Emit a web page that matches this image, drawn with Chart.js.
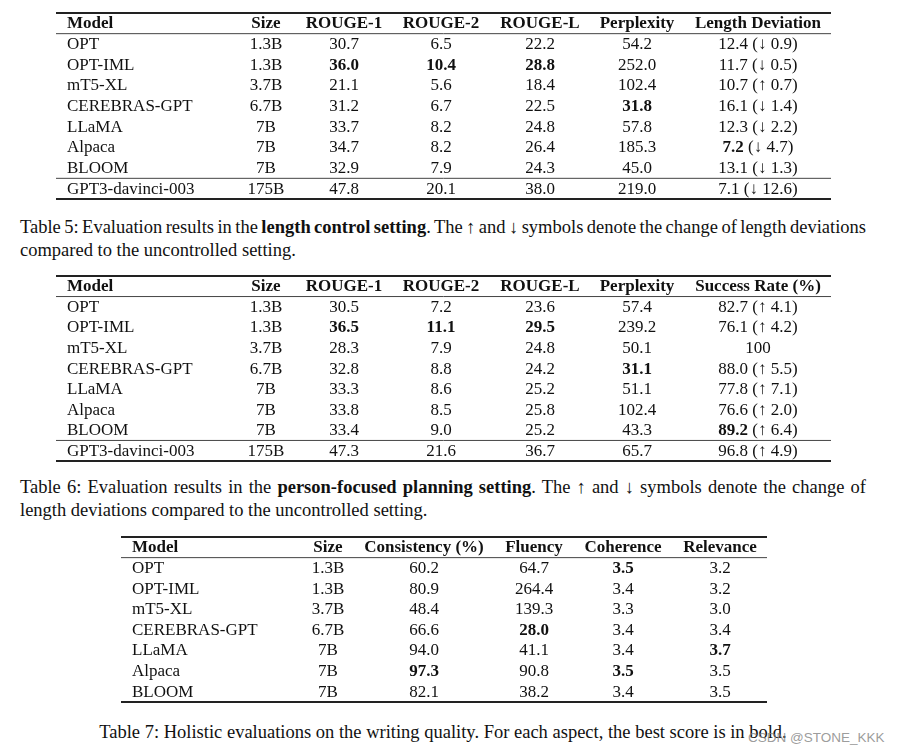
<!DOCTYPE html>
<html>
<head>
<meta charset="utf-8">
<script src="https://cdn.jsdelivr.net/npm/chart.js@4.4.0/dist/chart.umd.min.js"></script>
<style>
  body { margin: 0; background: #fff; width: 897px; height: 754px; position: relative; overflow: hidden;
         font-family: "Liberation Serif", "Times New Roman", serif; color: #111; }
  canvas { position: absolute; }
  .cap { position: absolute; left: 20px; width: 846px; font-size: 18.5px; line-height: 22.5px; }
  .cap .l1 { text-align: justify; text-align-last: justify; white-space: nowrap; word-spacing: -1.6px; }
  .cap.center { text-align: center; }
  .wm { position: absolute; left: 748px; top: 730px; font-family: "Liberation Sans", Arial, sans-serif;
        font-size: 13.5px; color: rgba(130,130,130,0.8); }
</style>
</head>
<body>
<canvas id="t5" width="775" height="190" style="left:56px; top:11px;"></canvas>
<div class="cap" style="top:216px;">
  <div class="l1">Table 5: Evaluation results in the <b>length control setting</b>. The ↑ and ↓ symbols denote the change of length deviations</div>
  <div>compared to the uncontrolled setting.</div>
</div>
<canvas id="t6" width="775" height="189" style="left:56px; top:274px;"></canvas>
<div class="cap" style="top:476px;">
  <div class="l1">Table 6: Evaluation results in the <b>person-focused planning setting</b>. The ↑ and ↓ symbols denote the change of</div>
  <div>length deviations compared to the uncontrolled setting.</div>
</div>
<canvas id="t7" width="646" height="169" style="left:121px; top:535px;"></canvas>
<div class="cap center" style="top:720.5px;">Table 7: Holistic evaluations on the writing quality. For each aspect, the best score is in bold.</div>
<div class="wm">CSDN @STONE_KKK</div>

<script>
// Table 5 - length control setting
const models5 = ['OPT', 'OPT-IML', 'mT5-XL', 'CEREBRAS-GPT', 'LLaMA', 'Alpaca', 'BLOOM', 'GPT3-davinci-003'];
const sizes5 = ['1.3B', '1.3B', '3.7B', '6.7B', '7B', '7B', '7B', '175B'];
const rouge1_5 = [30.7, 36.0, 21.1, 31.2, 33.7, 34.7, 32.9, 47.8];
const rouge2_5 = [6.5, 10.4, 5.6, 6.7, 8.2, 8.2, 7.9, 20.1];
const rougeL_5 = [22.2, 28.8, 18.4, 22.5, 24.8, 26.4, 24.3, 38.0];
const ppl5 = [54.2, 252.0, 102.4, 31.8, 57.8, 185.3, 45.0, 219.0];
const lenDev5 = [12.4, 11.7, 10.7, 16.1, 12.3, 7.2, 13.1, 7.1];
const lenDelta5 = [-0.9, -0.5, 0.7, -1.4, -2.2, -4.7, -1.3, -12.6];
const bold5 = [[1, 2], [1, 3], [1, 4], [3, 5], [5, 6]]; // [row, col]

// Table 6 - person-focused planning setting
const models6 = ['OPT', 'OPT-IML', 'mT5-XL', 'CEREBRAS-GPT', 'LLaMA', 'Alpaca', 'BLOOM', 'GPT3-davinci-003'];
const sizes6 = ['1.3B', '1.3B', '3.7B', '6.7B', '7B', '7B', '7B', '175B'];
const rouge1_6 = [30.5, 36.5, 28.3, 32.8, 33.3, 33.8, 33.4, 47.3];
const rouge2_6 = [7.2, 11.1, 7.9, 8.8, 8.6, 8.5, 9.0, 21.6];
const rougeL_6 = [23.6, 29.5, 24.8, 24.2, 25.2, 25.8, 25.2, 36.7];
const ppl6 = [57.4, 239.2, 50.1, 31.1, 51.1, 102.4, 43.3, 65.7];
const success6 = [82.7, 76.1, 100, 88.0, 77.8, 76.6, 89.2, 96.8];
const successDelta6 = [4.1, 4.2, null, 5.5, 7.1, 2.0, 6.4, 4.9];
const bold6 = [[1, 2], [1, 3], [1, 4], [3, 5], [6, 6]];

// Table 7 - holistic evaluations
const models7 = ['OPT', 'OPT-IML', 'mT5-XL', 'CEREBRAS-GPT', 'LLaMA', 'Alpaca', 'BLOOM'];
const sizes7 = ['1.3B', '1.3B', '3.7B', '6.7B', '7B', '7B', '7B'];
const consistency7 = [60.2, 80.9, 48.4, 66.6, 94.0, 97.3, 82.1];
const fluency7 = [64.7, 264.4, 139.3, 28.0, 41.1, 90.8, 38.2];
const coherence7 = [3.5, 3.4, 3.3, 3.4, 3.4, 3.5, 3.4];
const relevance7 = [3.2, 3.2, 3.0, 3.4, 3.7, 3.5, 3.5];
const bold7 = [[0, 4], [5, 4], [3, 3], [4, 5], [5, 2]];

const fix1 = v => v.toFixed(1);
function withDelta(vals, deltas) {
    return vals.map((v, i) => {
        if (deltas[i] === null) return [String(v)];
        const arrow = deltas[i] < 0 ? '↓' : '↑';
        return [fix1(v), ' (' + arrow + ' ' + Math.abs(deltas[i]).toFixed(1) + ')'];
    });
}

const FONT = '"Liberation Serif", "Times New Roman", serif';
const SIZE = 17;

// draw a list of text runs; only the first run may be bold
function drawRuns(ctx, runs, x, y, align, bold) {
    const fonts = runs.map((r, k) => ((bold && k === 0) ? 'bold ' : '') + SIZE + 'px ' + FONT);
    let widths = runs.map((r, k) => { ctx.font = fonts[k]; return ctx.measureText(r).width; });
    let total = widths.reduce((a, b) => a + b, 0);
    let cx = align === 'left' ? x : x - total / 2;
    runs.forEach((r, k) => {
        ctx.font = fonts[k];
        ctx.textAlign = 'left';
        ctx.fillText(r, cx, y);
        cx += widths[k];
    });
}

const tablePlugin = {
    id: 'tableText',
    afterDatasetsDraw(chart) {
        const ctx = chart.ctx;
        const area = chart.chartArea;
        const y = chart.scales.y;
        const nRows = y.getLabels().length;
        const band = (y.bottom - y.top) / nRows;
        const t = chart.options.plugins.tableText;

        ctx.save();
        ctx.fillStyle = '#111';
        ctx.textBaseline = 'alphabetic';

        // header row
        chart.data.datasets.forEach((ds, c) => {
            const hx = chart.getDatasetMeta(c).data[0].x;
            drawRuns(ctx, [ds.label], hx, y.getPixelForValue(0) + 5, ds.align, true);
        });

        // body cells
        chart.data.datasets.forEach((ds, c) => {
            chart.getDatasetMeta(c).data.forEach((pt, i) => {
                const isBold = c === 0 ? false : t.bold.some(b => b[0] === i && b[1] === c);
                drawRuns(ctx, ds.cells[i], pt.x, pt.y + 5, ds.align, isBold);
            });
        });

        // booktabs-style rules
        const rule = (py, w, col) => {
            ctx.beginPath();
            ctx.lineWidth = w;
            ctx.strokeStyle = col;
            ctx.moveTo(area.left, py);
            ctx.lineTo(area.right, py);
            ctx.stroke();
        };
        rule(y.top, 1.8, '#222');
        rule(y.top + band, 1, '#444');
        if (t.sepBeforeLast) rule(y.top + band * (nRows - 1), 1, '#444');
        rule(y.bottom, 1.8, '#222');
        ctx.restore();
    }
};

function makeTable(id, header, models, columns, colX, bold, sepBeforeLast) {
    const canvas = document.getElementById(id);
    const datasets = header.map((h, c) => ({
        label: h,
        align: c === 0 ? 'left' : 'center',
        cells: columns[c],
        data: models.map(m => ({ x: colX[c], y: m })),
        pointRadius: 0,
        showLine: false
    }));
    return new Chart(canvas.getContext('2d'), {
        type: 'scatter',
        data: { datasets },
        options: {
            responsive: false,
            animation: false,
            layout: { padding: { top: 2, bottom: 2, left: 0, right: 0 } },
            plugins: {
                legend: { display: false },
                tooltip: { enabled: false },
                tableText: { bold, sepBeforeLast }
            },
            scales: {
                x: { type: 'linear', min: 0, max: canvas.width, display: false },
                y: { type: 'category', labels: ['Model'].concat(models), offset: true, display: false }
            }
        },
        plugins: [tablePlugin]
    });
}

document.addEventListener('DOMContentLoaded', function () {
    const colX56 = [11, 210, 288, 385, 484, 581, 702];
    const colX7 = [11, 207, 303, 413, 502, 599];

    makeTable('t5',
        ['Model', 'Size', 'ROUGE-1', 'ROUGE-2', 'ROUGE-L', 'Perplexity', 'Length Deviation'],
        models5,
        [models5.map(m => [m]), sizes5.map(s => [s]), rouge1_5.map(v => [fix1(v)]), rouge2_5.map(v => [fix1(v)]),
         rougeL_5.map(v => [fix1(v)]), ppl5.map(v => [fix1(v)]), withDelta(lenDev5, lenDelta5)],
        colX56, bold5, true);

    makeTable('t6',
        ['Model', 'Size', 'ROUGE-1', 'ROUGE-2', 'ROUGE-L', 'Perplexity', 'Success Rate (%)'],
        models6,
        [models6.map(m => [m]), sizes6.map(s => [s]), rouge1_6.map(v => [fix1(v)]), rouge2_6.map(v => [fix1(v)]),
         rougeL_6.map(v => [fix1(v)]), ppl6.map(v => [fix1(v)]), withDelta(success6, successDelta6)],
        colX56, bold6, true);

    makeTable('t7',
        ['Model', 'Size', 'Consistency (%)', 'Fluency', 'Coherence', 'Relevance'],
        models7,
        [models7.map(m => [m]), sizes7.map(s => [s]), consistency7.map(v => [fix1(v)]), fluency7.map(v => [fix1(v)]),
         coherence7.map(v => [fix1(v)]), relevance7.map(v => [fix1(v)])],
        colX7, bold7, false);
});
</script>
</body>
</html>
